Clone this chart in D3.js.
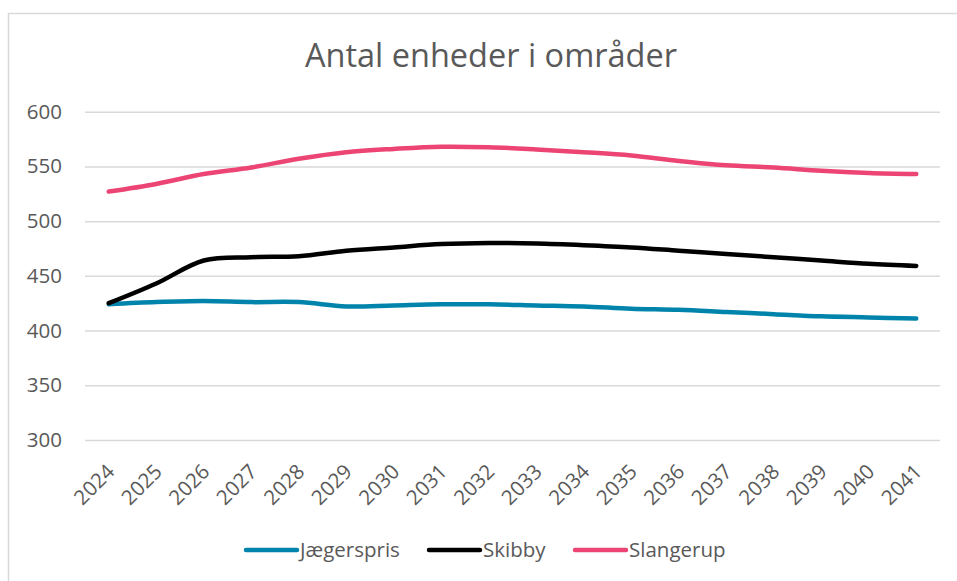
<!DOCTYPE html>
<html><head><meta charset="utf-8">
<script src="https://cdn.jsdelivr.net/npm/d3@7"></script>
<style>body{margin:0;background:#fff}svg{display:block}text{font-family:"Open Sans",sans-serif}</style>
</head><body><svg id="c" width="957" height="581"></svg>
<script>
const years = ["2024","2025","2026","2027","2028","2029","2030","2031","2032","2033","2034","2035","2036","2037","2038","2039","2040","2041"];
const jaegerspris = [424,426,427,426,426,422,423,424,424,423,422,420,419,417,415,413,412,411];
const skibby = [425,443,464,467,468,473,476,479,480,479.5,478,476,473,470,467,464,461,459];
const slangerup = [527,534,543,549,557,563,566,568,567.5,565.5,563,560,555,551,549,546,544,543];
const seriesNames = ["Jægerspris","Skibby","Slangerup"];
const yTicks = [300,350,400,450,500,550,600];
const title = "Antal enheder i områder";

const colors = ["#0084AC","#000000","#EC4573"];
const series = [jaegerspris, skibby, slangerup];

const svg = d3.select("#c");
svg.append("path").attr("d","M8.5,600V13.5H960").attr("fill","none").attr("stroke","#d9d9d9").attr("stroke-width",1.5);

const x = d3.scaleBand().domain(years).range([85,940]);
const y = d3.scaleLinear().domain([300,600]).range([440,111.7]);

svg.append("text").attr("x",491).attr("y",67).attr("text-anchor","middle")
  .attr("font-size",32.5).attr("fill","#595959").text(title);

const yAxis = svg.append("g").attr("transform","translate(85,0)")
  .call(d3.axisLeft(y).tickValues(yTicks).tickSize(-855).tickPadding(23));
yAxis.select(".domain").remove();
yAxis.selectAll(".tick line").attr("stroke","#d9d9d9").attr("stroke-width",1.5);
yAxis.selectAll(".tick text").attr("font-size",20.5).attr("fill","#595959").attr("font-family","'Open Sans',sans-serif");

const xAxis = svg.append("g").attr("transform","translate(0,440)")
  .call(d3.axisBottom(x).tickSize(0).tickPadding(0));
xAxis.select(".domain").remove();
xAxis.selectAll(".tick text").attr("font-size",20.5).attr("fill","#595959").attr("font-family","'Open Sans',sans-serif")
  .attr("text-anchor","end").attr("y",0).attr("dy",0).attr("transform","translate(7,33) rotate(-45)");

const line = d3.line().x((d,i)=>x(years[i])+x.bandwidth()/2).y(d=>y(d)).curve(d3.curveCatmullRom.alpha(0.5));
series.forEach((s,k)=>{
  svg.append("path").attr("d",line(s)).attr("fill","none").attr("stroke",colors[k])
    .attr("stroke-width",4.5).attr("stroke-linecap","round").attr("stroke-linejoin","round");
});

// legend
const legX = [246,429,575];
const lg = svg.append("g");
seriesNames.forEach((n,k)=>{
  lg.append("line").attr("x1",legX[k]).attr("x2",legX[k]+51).attr("y1",550).attr("y2",550)
    .attr("stroke",colors[k]).attr("stroke-width",4.5).attr("stroke-linecap","round");
  lg.append("text").attr("x",legX[k]+54).attr("y",557).attr("font-size",20.5).attr("fill","#595959").text(n);
});
</script></body></html>
